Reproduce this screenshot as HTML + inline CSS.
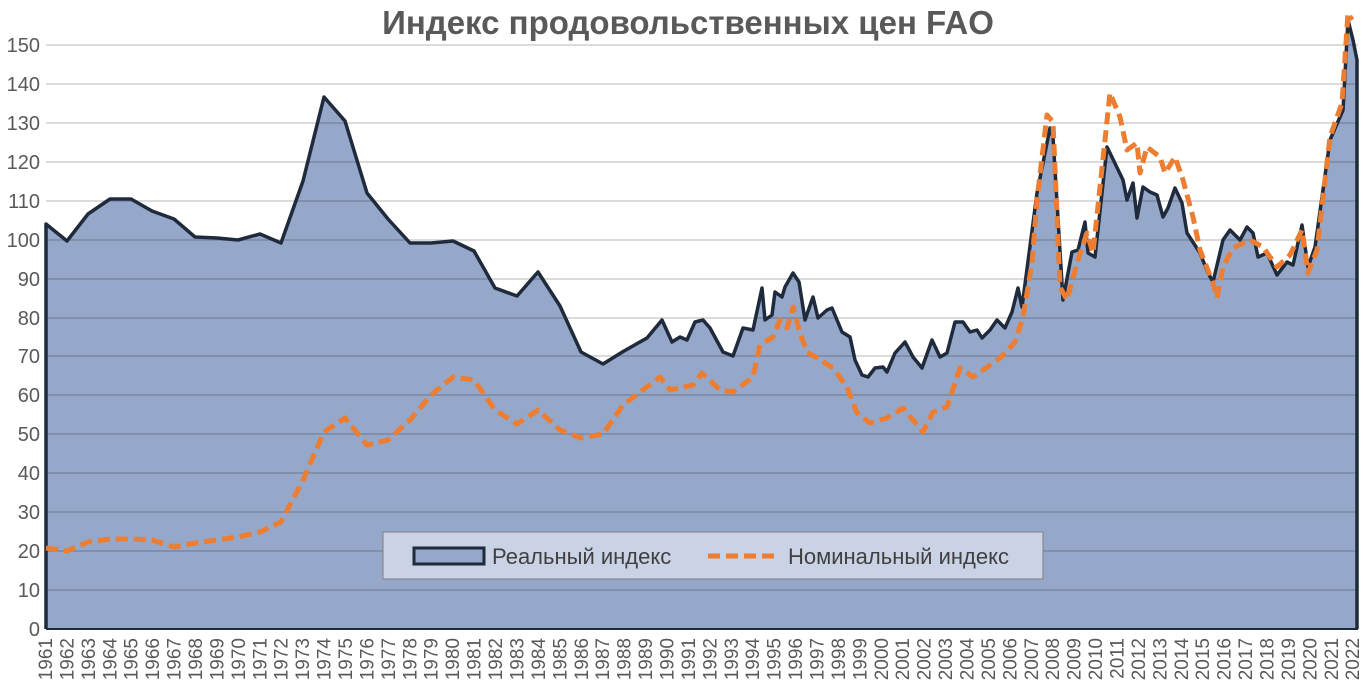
<!DOCTYPE html>
<html><head><meta charset="utf-8"><style>
html,body{margin:0;padding:0;background:#fff;}
svg{display:block;font-family:"Liberation Sans",sans-serif;}
</style></head><body>
<svg width="1362" height="695" viewBox="0 0 1362 695">
<rect width="1362" height="695" fill="#fff"/>
<text x="688" y="34" text-anchor="middle" font-size="33" font-weight="bold" fill="#595959">Индекс продовольственных цен FAO</text>
<polygon fill="#95a8c9" points="46,629 46,224 67,241 88,214 110,199 131,199 152,211 174,219 195,237 217,238 238,240 260,234 281,243 303,181 324,97 345,121 367,193 388,219 410,243 431,243 453,241 474,251 495,288 517,296 538,272 560,306 581,352 603,364 624,351 647,338 662,320 672,342 680,337 687,340 695,322 703,320 710,328 723,352 733,356 743,328 753,330 762,288 765,320 772,315 775,292 782,297 785,287 793,273 799,282 805,320 813,297 818,318 827,310 832,308 842,332 850,337 855,360 862,375 868,377 875,368 883,367 887,372 895,353 905,342 913,357 922,368 932,340 940,357 947,353 955,322 963,322 970,332 977,330 982,338 990,330 997,320 1005,328 1012,312 1018,288 1022,307 1037,193 1050,128 1053,137 1063,300 1072,252 1078,250 1085,222 1088,253 1095,257 1107,147 1110,153 1123,180 1127,200 1133,183 1137,218 1143,187 1150,192 1157,195 1163,217 1168,208 1175,188 1182,203 1187,233 1200,253 1208,273 1213,282 1223,240 1230,230 1240,240 1247,227 1253,233 1258,257 1267,253 1277,275 1287,262 1293,265 1302,225 1308,267 1315,247 1330,140 1343,110 1348,20 1353,40 1357,60 1357,629"/>
<g stroke="#000" stroke-opacity="0.14" stroke-width="2">
<line x1="46" x2="1358" y1="45" y2="45"/><line x1="46" x2="1358" y1="84" y2="84"/><line x1="46" x2="1358" y1="123" y2="123"/><line x1="46" x2="1358" y1="162" y2="162"/><line x1="46" x2="1358" y1="201" y2="201"/><line x1="46" x2="1358" y1="240" y2="240"/><line x1="46" x2="1358" y1="279" y2="279"/><line x1="46" x2="1358" y1="318" y2="318"/><line x1="46" x2="1358" y1="356" y2="356"/><line x1="46" x2="1358" y1="395" y2="395"/><line x1="46" x2="1358" y1="434" y2="434"/><line x1="46" x2="1358" y1="473" y2="473"/><line x1="46" x2="1358" y1="512" y2="512"/><line x1="46" x2="1358" y1="551" y2="551"/><line x1="46" x2="1358" y1="590" y2="590"/>
</g>
<polyline fill="none" stroke="#1f2a3c" stroke-width="3.5" stroke-linejoin="round" points="46,629 46,224 67,241 88,214 110,199 131,199 152,211 174,219 195,237 217,238 238,240 260,234 281,243 303,181 324,97 345,121 367,193 388,219 410,243 431,243 453,241 474,251 495,288 517,296 538,272 560,306 581,352 603,364 624,351 647,338 662,320 672,342 680,337 687,340 695,322 703,320 710,328 723,352 733,356 743,328 753,330 762,288 765,320 772,315 775,292 782,297 785,287 793,273 799,282 805,320 813,297 818,318 827,310 832,308 842,332 850,337 855,360 862,375 868,377 875,368 883,367 887,372 895,353 905,342 913,357 922,368 932,340 940,357 947,353 955,322 963,322 970,332 977,330 982,338 990,330 997,320 1005,328 1012,312 1018,288 1022,307 1037,193 1050,128 1053,137 1063,300 1072,252 1078,250 1085,222 1088,253 1095,257 1107,147 1110,153 1123,180 1127,200 1133,183 1137,218 1143,187 1150,192 1157,195 1163,217 1168,208 1175,188 1182,203 1187,233 1200,253 1208,273 1213,282 1223,240 1230,230 1240,240 1247,227 1253,233 1258,257 1267,253 1277,275 1287,262 1293,265 1302,225 1308,267 1315,247 1330,140 1343,110 1348,20 1353,40 1357,60 1357,629"/>
<polyline fill="none" stroke="#ed7d31" stroke-width="5" stroke-dasharray="12,6" stroke-linejoin="round" points="46,548 67,551 88,542 110,539 131,539 152,540 174,547 195,543 217,540 238,537 260,532 281,522 303,480 324,432 345,418 367,445 388,440 410,420 431,395 453,377 474,380 495,410 517,424 538,410 560,430 581,438 603,434 623,405 660,377 670,390 693,385 702,373 720,390 733,392 753,377 760,345 773,337 780,320 787,328 793,307 800,333 807,352 817,358 833,368 847,387 857,413 870,423 887,418 903,408 923,432 933,412 947,407 960,368 973,377 1000,358 1015,342 1023,317 1032,263 1037,200 1047,115 1053,122 1060,287 1067,300 1077,263 1087,233 1093,253 1110,93 1120,117 1127,150 1137,143 1140,173 1147,147 1160,157 1165,173 1175,157 1183,180 1193,217 1200,250 1213,283 1217,298 1223,267 1233,248 1250,240 1263,247 1277,267 1290,255 1302,230 1308,273 1317,250 1330,137 1342,103 1348,13 1352,20"/>
<line x1="46" y1="629" x2="1358" y2="629" stroke="#1f2a3c" stroke-width="2"/>
<g font-size="20" fill="#595959" text-anchor="end">
<text x="40" y="636">0</text><text x="40" y="597">10</text><text x="40" y="558">20</text><text x="40" y="519">30</text><text x="40" y="480">40</text><text x="40" y="441">50</text><text x="40" y="402">60</text><text x="40" y="363">70</text><text x="40" y="325">80</text><text x="40" y="286">90</text><text x="40" y="247">100</text><text x="40" y="208">110</text><text x="40" y="169">120</text><text x="40" y="130">130</text><text x="40" y="91">140</text><text x="40" y="52">150</text>
</g>
<g font-size="19" fill="#595959" text-anchor="end">
<text transform="translate(52,638) rotate(-90)">1961</text>
<text transform="translate(73.4,638) rotate(-90)">1962</text>
<text transform="translate(94.9,638) rotate(-90)">1963</text>
<text transform="translate(116.3,638) rotate(-90)">1964</text>
<text transform="translate(137.7,638) rotate(-90)">1965</text>
<text transform="translate(159.2,638) rotate(-90)">1966</text>
<text transform="translate(180.6,638) rotate(-90)">1967</text>
<text transform="translate(202,638) rotate(-90)">1968</text>
<text transform="translate(223.4,638) rotate(-90)">1969</text>
<text transform="translate(244.9,638) rotate(-90)">1970</text>
<text transform="translate(266.3,638) rotate(-90)">1971</text>
<text transform="translate(287.7,638) rotate(-90)">1972</text>
<text transform="translate(309.2,638) rotate(-90)">1973</text>
<text transform="translate(330.6,638) rotate(-90)">1974</text>
<text transform="translate(352,638) rotate(-90)">1975</text>
<text transform="translate(373.5,638) rotate(-90)">1976</text>
<text transform="translate(394.9,638) rotate(-90)">1977</text>
<text transform="translate(416.3,638) rotate(-90)">1978</text>
<text transform="translate(437.7,638) rotate(-90)">1979</text>
<text transform="translate(459.2,638) rotate(-90)">1980</text>
<text transform="translate(480.6,638) rotate(-90)">1981</text>
<text transform="translate(502,638) rotate(-90)">1982</text>
<text transform="translate(523.5,638) rotate(-90)">1983</text>
<text transform="translate(544.9,638) rotate(-90)">1984</text>
<text transform="translate(566.3,638) rotate(-90)">1985</text>
<text transform="translate(587.8,638) rotate(-90)">1986</text>
<text transform="translate(609.2,638) rotate(-90)">1987</text>
<text transform="translate(630.6,638) rotate(-90)">1988</text>
<text transform="translate(652,638) rotate(-90)">1989</text>
<text transform="translate(673.5,638) rotate(-90)">1990</text>
<text transform="translate(694.9,638) rotate(-90)">1991</text>
<text transform="translate(716.3,638) rotate(-90)">1992</text>
<text transform="translate(737.8,638) rotate(-90)">1993</text>
<text transform="translate(759.2,638) rotate(-90)">1994</text>
<text transform="translate(780.6,638) rotate(-90)">1995</text>
<text transform="translate(802.1,638) rotate(-90)">1996</text>
<text transform="translate(823.5,638) rotate(-90)">1997</text>
<text transform="translate(844.9,638) rotate(-90)">1998</text>
<text transform="translate(866.3,638) rotate(-90)">1999</text>
<text transform="translate(887.8,638) rotate(-90)">2000</text>
<text transform="translate(909.2,638) rotate(-90)">2001</text>
<text transform="translate(930.6,638) rotate(-90)">2002</text>
<text transform="translate(952.1,638) rotate(-90)">2003</text>
<text transform="translate(973.5,638) rotate(-90)">2004</text>
<text transform="translate(994.9,638) rotate(-90)">2005</text>
<text transform="translate(1016.4,638) rotate(-90)">2006</text>
<text transform="translate(1037.8,638) rotate(-90)">2007</text>
<text transform="translate(1059.2,638) rotate(-90)">2008</text>
<text transform="translate(1080.6,638) rotate(-90)">2009</text>
<text transform="translate(1102.1,638) rotate(-90)">2010</text>
<text transform="translate(1123.5,638) rotate(-90)">2011</text>
<text transform="translate(1144.9,638) rotate(-90)">2012</text>
<text transform="translate(1166.4,638) rotate(-90)">2013</text>
<text transform="translate(1187.8,638) rotate(-90)">2014</text>
<text transform="translate(1209.2,638) rotate(-90)">2015</text>
<text transform="translate(1230.7,638) rotate(-90)">2016</text>
<text transform="translate(1252.1,638) rotate(-90)">2017</text>
<text transform="translate(1273.5,638) rotate(-90)">2018</text>
<text transform="translate(1294.9,638) rotate(-90)">2019</text>
<text transform="translate(1316.4,638) rotate(-90)">2020</text>
<text transform="translate(1337.8,638) rotate(-90)">2021</text>
<text transform="translate(1359.2,638) rotate(-90)">2022</text>
</g>
<rect x="383" y="532" width="660" height="47" fill="#c9d3e5" stroke="#7f7f7f" stroke-width="1"/>
<rect x="414" y="548" width="70" height="16" fill="#95a8c9" stroke="#1f2a3c" stroke-width="3"/>
<text x="492" y="564" font-size="22" fill="#404040">Реальный индекс</text>
<line x1="708" y1="556" x2="780" y2="556" stroke="#ed7d31" stroke-width="5" stroke-dasharray="12,6"/>
<text x="788" y="564" font-size="22" fill="#404040">Номинальный индекс</text>
</svg>
</body></html>
